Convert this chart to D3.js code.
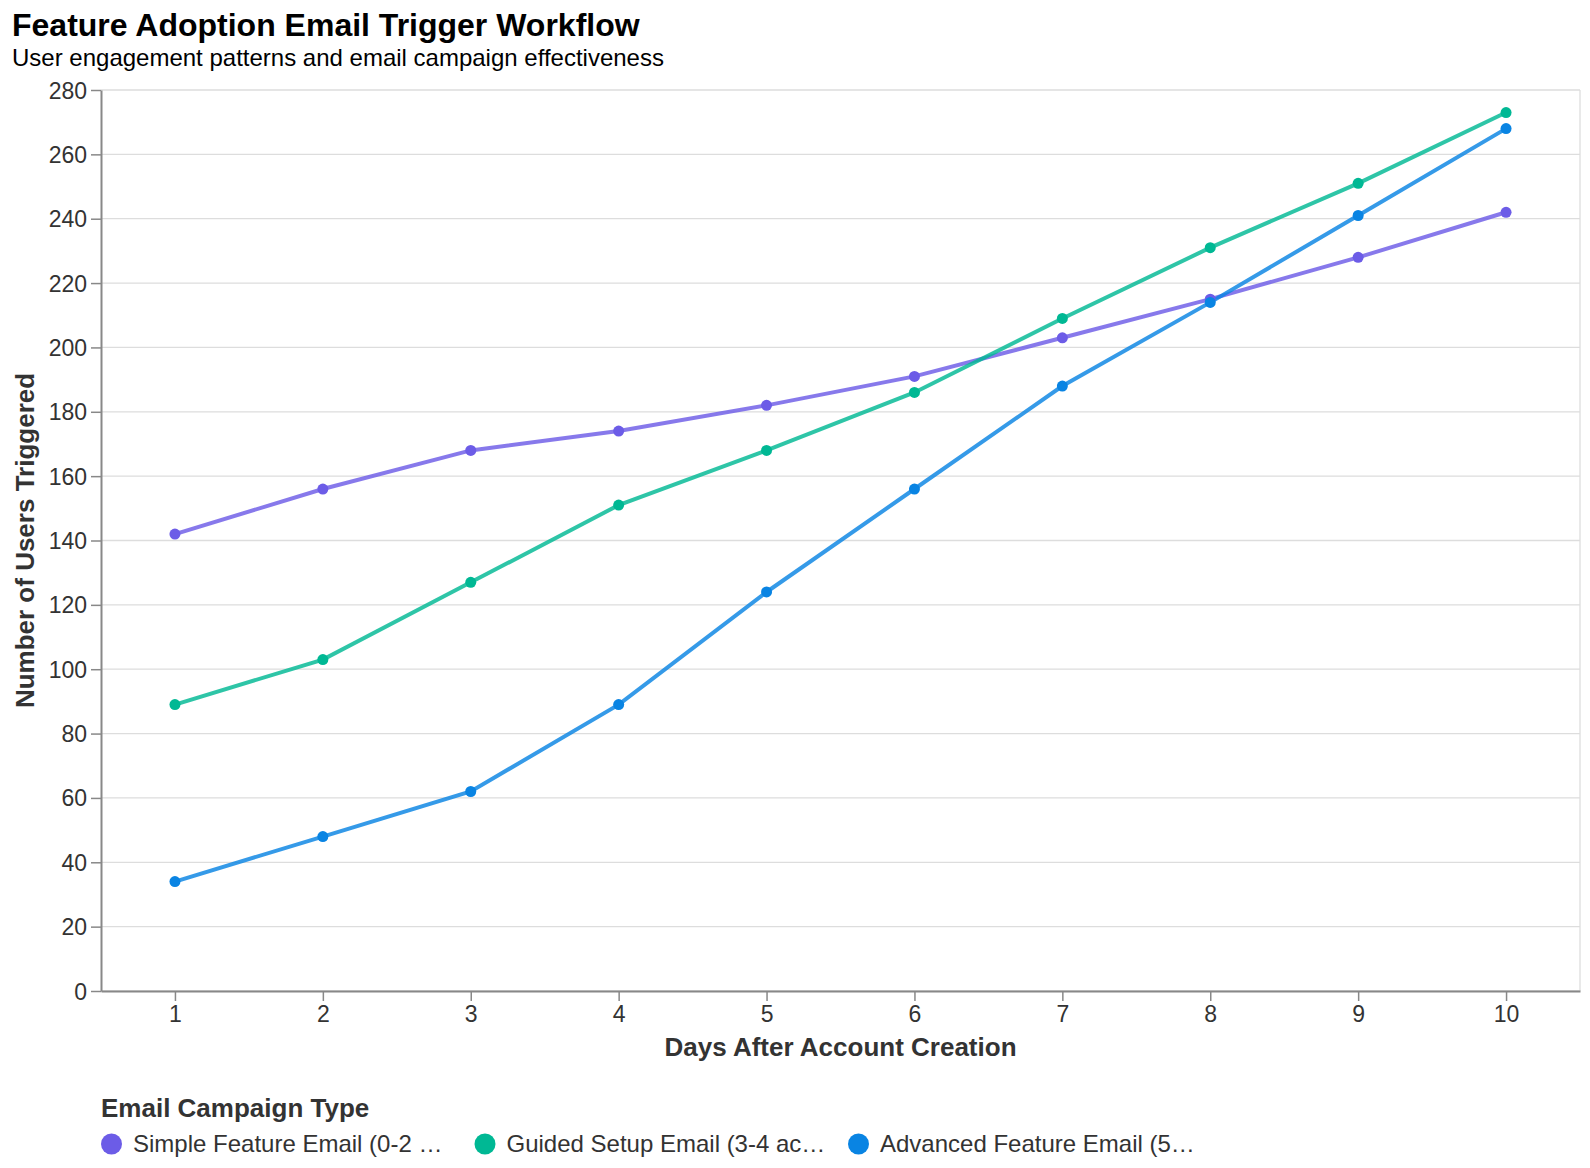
<!DOCTYPE html>
<html>
<head>
<meta charset="utf-8">
<script src="https://cdn.jsdelivr.net/npm/d3@7"></script>
<style>
  body { margin: 0; background: #fff; font-family: "Liberation Sans", Arial, sans-serif; }
</style>
</head>
<body>
<div id="chart"></div>
<script>
// data
const days = [1, 2, 3, 4, 5, 6, 7, 8, 9, 10];
const seriesNames = [
	'Simple Feature Email (0-2 actions)',
	'Guided Setup Email (3-4 actions)',
	'Advanced Feature Email (5+ actions)'
];
const simpleUsers = [142, 156, 168, 174, 182, 191, 203, 215, 228, 242];
const guidedUsers = [89, 103, 127, 151, 168, 186, 209, 231, 251, 273];
const advancedUsers = [34, 48, 62, 89, 124, 156, 188, 214, 241, 268];
const yTicks = [0, 20, 40, 60, 80, 100, 120, 140, 160, 180, 200, 220, 240, 260, 280];
const colors = ['#6c5ce7', '#00b894', '#0984e3'];

const series = [simpleUsers, guidedUsers, advancedUsers].map((vals, i) => ({
	name: seriesNames[i],
	color: colors[i],
	values: vals.map((v, j) => ({ day: days[j], users: v }))
}));

const W = 1590, H = 1168;
const m = { left: 101, top: 90, right: 10, bottom: 177 };
const w = W - m.left - m.right;
const h = H - m.top - m.bottom;

const svg = d3.select('#chart').append('svg')
	.attr('width', W)
	.attr('height', H);

svg.append('text')
	.attr('x', 12).attr('y', 36)
	.style('font-size', '32px').style('font-weight', 'bold').attr('fill', '#000')
	.text('Feature Adoption Email Trigger Workflow');

svg.append('text')
	.attr('x', 12).attr('y', 66)
	.style('font-size', '24px').attr('fill', '#000')
	.text('User engagement patterns and email campaign effectiveness');

const g = svg.append('g').attr('transform', `translate(${m.left},${m.top})`);

const x = d3.scalePoint().domain(days).range([0, w]).padding(0.5);
const y = d3.scaleLinear().domain([0, 280]).range([h, 0]);

// grid
g.append('g').selectAll('line')
	.data(yTicks)
	.enter().append('line')
	.attr('x1', 0).attr('x2', w)
	.attr('y1', d => y(d)).attr('y2', d => y(d))
	.attr('stroke', '#ddd').attr('stroke-width', 1.3);

// view border (right side)
g.append('line')
	.attr('x1', w).attr('x2', w).attr('y1', 0).attr('y2', h)
	.attr('stroke', '#ddd').attr('stroke-width', 1.3);

const xAxis = g.append('g')
	.attr('transform', `translate(0,${h})`)
	.call(d3.axisBottom(x).tickSize(10).tickSizeOuter(0).tickPadding(5));
const yAxis = g.append('g')
	.call(d3.axisLeft(y).tickValues(yTicks).tickSize(10).tickSizeOuter(0).tickPadding(4));

[xAxis, yAxis].forEach(a => {
	a.select('.domain').attr('stroke', '#888').attr('stroke-width', 2);
	a.selectAll('.tick line').attr('stroke', '#888').attr('stroke-width', 1.5);
	a.selectAll('.tick text')
		.style('font-family', '"Liberation Sans", Arial, sans-serif')
		.style('font-size', '23px').attr('fill', '#333');
});
yAxis.selectAll('.tick text').attr('dy', '0.35em');

svg.append('text')
	.attr('x', m.left + w / 2).attr('y', 1056)
	.attr('text-anchor', 'middle')
	.style('font-size', '26px').style('font-weight', 'bold').attr('fill', '#333')
	.text('Days After Account Creation');

svg.append('text')
	.attr('transform', `translate(34,${m.top + h / 2}) rotate(-90)`)
	.attr('text-anchor', 'middle')
	.style('font-size', '26px').style('font-weight', 'bold').attr('fill', '#333')
	.text('Number of Users Triggered');

const line = d3.line()
	.x(d => x(d.day))
	.y(d => y(d.users));

series.forEach(s => {
	g.append('path')
		.datum(s.values)
		.attr('d', line)
		.attr('fill', 'none')
		.attr('stroke', s.color)
		.attr('stroke-opacity', 0.82)
		.attr('stroke-width', 4);
});

series.forEach(s => {
	g.selectAll(null)
		.data(s.values)
		.enter().append('circle')
		.attr('cx', d => x(d.day))
		.attr('cy', d => y(d.users))
		.attr('r', 5.5)
		.attr('fill', s.color);
});

// legend
svg.append('text')
	.attr('x', 101).attr('y', 1117)
	.style('font-size', '26px').style('font-weight', 'bold').attr('fill', '#333')
	.text('Email Campaign Type');

const legend = svg.append('g').attr('transform', 'translate(101,1144)');
const labelLimit = 322;
series.forEach((s, i) => {
	const item = legend.append('g').attr('transform', `translate(${i * 373.5},0)`);
	item.append('circle').attr('cx', 10.5).attr('cy', 0).attr('r', 10.5).attr('fill', s.color);
	const t = item.append('text')
		.attr('x', 32).attr('y', 0).attr('dy', '0.35em')
		.style('font-size', '24px').attr('fill', '#333')
		.text(s.name);
	// truncate like the original legend does
	let txt = s.name;
	if (t.node().getComputedTextLength() > labelLimit) {
		while (txt.length > 0) {
			txt = txt.slice(0, -1);
			t.text(txt + '…');
			if (t.node().getComputedTextLength() <= labelLimit) break;
		}
	}
});
</script>
</body>
</html>
